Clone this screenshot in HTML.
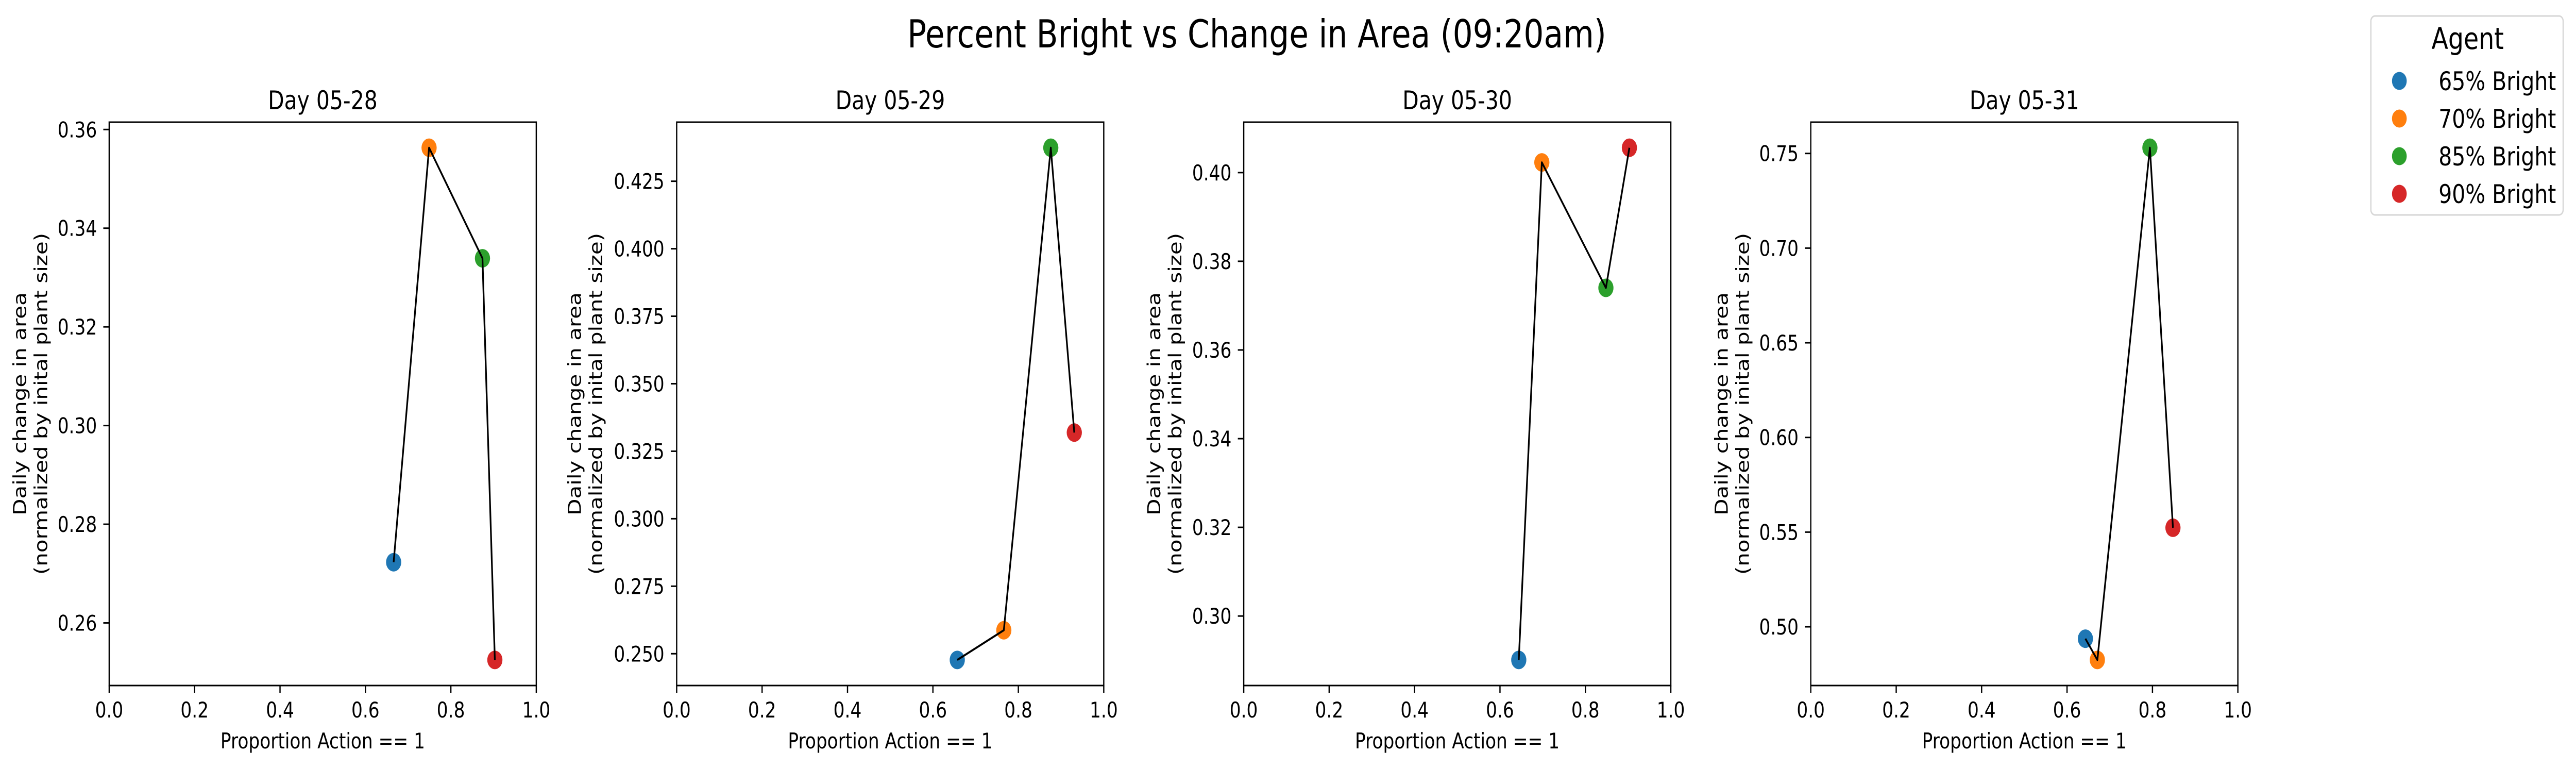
<!DOCTYPE html>
<html><head><meta charset="utf-8">
<style>
html,body{margin:0;padding:0;background:#fff;width:100%;height:100%;overflow:hidden;}
svg{display:block;width:100vw;height:100vh;font-family:"DejaVu Sans","Liberation Sans",sans-serif;}
</style></head><body>
<svg id="fig" viewBox="0 0 6110 1490" preserveAspectRatio="none" xmlns="http://www.w3.org/2000/svg">
<rect width="6110" height="1490" fill="#fff"/>
<text x="2981" y="92" font-size="75" text-anchor="middle">Percent Bright vs Change in Area (09:20am)</text>
<g>
<rect x="5623.5" y="31" width="456" height="386" rx="10" fill="#fff" stroke="#d6d6d6" stroke-width="3"/>
<text x="5853" y="95" font-size="58" text-anchor="middle">Agent</text>
<g id="legendItems"></g>
</g>
<g id="panels"></g>
</svg>
<script>
const agents = ["65% Bright","70% Bright","85% Bright","90% Bright"];
const colors = ["#1f77b4","#ff7f0e","#2ca02c","#d62728"];
const days = ["Day 05-28","Day 05-29","Day 05-30","Day 05-31"];
const xDay1 = [0.666,0.749,0.874,0.903];
const yDay1 = [0.2723,0.3563,0.3339,0.2525];
const xDay2 = [0.657,0.766,0.876,0.931];
const yDay2 = [0.2477,0.2587,0.4374,0.3319];
const xDay3 = [0.644,0.698,0.848,0.903];
const yDay3 = [0.2901,0.4023,0.3740,0.4056];
const xDay4 = [0.643,0.671,0.794,0.848];
const yDay4 = [0.4937,0.4825,0.7530,0.5523];
const yTicks1 = [0.26,0.28,0.30,0.32,0.34,0.36];
const yTicks2 = [0.250,0.275,0.300,0.325,0.350,0.375,0.400,0.425];
const yTicks3 = [0.30,0.32,0.34,0.36,0.38,0.40];
const yTicks4 = [0.50,0.55,0.60,0.65,0.70,0.75];
const yDecimals = [2,3,2,2];
const xTicks = [0.0,0.2,0.4,0.6,0.8,1.0];

const NS="http://www.w3.org/2000/svg";
function mk(tag,attrs,parent){const e=document.createElementNS(NS,tag);for(const k in attrs)e.setAttribute(k,attrs[k]);parent.appendChild(e);return e;}

const panelLefts=[259,1605,2950,4295];
const ylabelOffsets=[197,227,198,197];
const axW=1013, axTop=237, axBot=1330;
const allX=[xDay1,xDay2,xDay3,xDay4], allY=[yDay1,yDay2,yDay3,yDay4], allT=[yTicks1,yTicks2,yTicks3,yTicks4];
const root=document.getElementById('panels');

for(let p=0;p<4;p++){
  const L=panelLefts[p], R=L+axW;
  const xs=allX[p], ys=allY[p];
  const mn=Math.min(...ys), mx=Math.max(...ys), rg=mx-mn;
  const y0=mn-0.05*rg, y1=mx+0.05*rg;
  const sx=v=>L+v*axW;
  const sy=v=>axBot-(v-y0)/(y1-y0)*(axBot-axTop);
  const g=mk('g',{},root);
  
  
  const t=mk('text',{x:(L+R)/2,y:212,'font-size':50,'text-anchor':'middle'},g);
  
  
  t.textContent=days[p];
  xTicks.forEach(v=>{
    const tl=mk('line',{x1:sx(v),x2:sx(v),y1:axBot,y2:axBot+14,stroke:'#000','stroke-width':3},g);
    
    
    const tx=mk('text',{x:sx(v),y:1392,'font-size':42,'text-anchor':'middle'},g);
    
    
    tx.textContent=v.toFixed(1);
  });
  allT[p].forEach(v=>{
    const tl=mk('line',{x1:L-14,x2:L,y1:sy(v),y2:sy(v),stroke:'#000','stroke-width':3},g);
    
    
    const tx=mk('text',{x:L-29,y:sy(v)+15,'font-size':42,'text-anchor':'end'},g);
    
    
    tx.textContent=v.toFixed(yDecimals[p]);
  });
  const xl=mk('text',{x:(L+R)/2,y:1452,'font-size':42,'text-anchor':'middle'},g);
  
  
  xl.textContent='Proportion Action == 1';
  const cy=(axTop+axBot)/2, off=ylabelOffsets[p];
  const yl=mk('text',{'font-size':42,'text-anchor':'middle',transform:`translate(${L-off},${cy}) rotate(-90)`},g);
  
  
  const s1=mk('tspan',{x:0,y:0},yl); s1.textContent='Daily change in area';
  const s2=mk('tspan',{x:0,y:50},yl); s2.textContent='(normalized by inital plant size)';
  for(let i=0;i<xs.length;i++){
    const c=mk('circle',{cx:sx(xs[i]),cy:sy(ys[i]),r:18,fill:colors[i]},g);
    
    
  }
  const pts=xs.map((v,i)=>sx(v)+','+sy(ys[i])).join(' ');
  const pl=mk('polyline',{points:pts,fill:'none',stroke:'#000','stroke-width':4,'stroke-linejoin':'round'},g);
  
  
  const fr=mk('rect',{x:L,y:axTop,width:axW,height:axBot-axTop,fill:'none',stroke:'#000','stroke-width':3},g);
  
  
}
const lg=document.getElementById('legendItems');
agents.forEach((a,i)=>{
  const cy=157+i*73;
  const c=mk('circle',{cx:5691,cy:cy,r:17.5,fill:colors[i]},lg);
  
  
  const t=mk('text',{x:5784,y:cy+18,'font-size':50},lg);
  
  
  t.textContent=a;
});
</script>
</body></html>
